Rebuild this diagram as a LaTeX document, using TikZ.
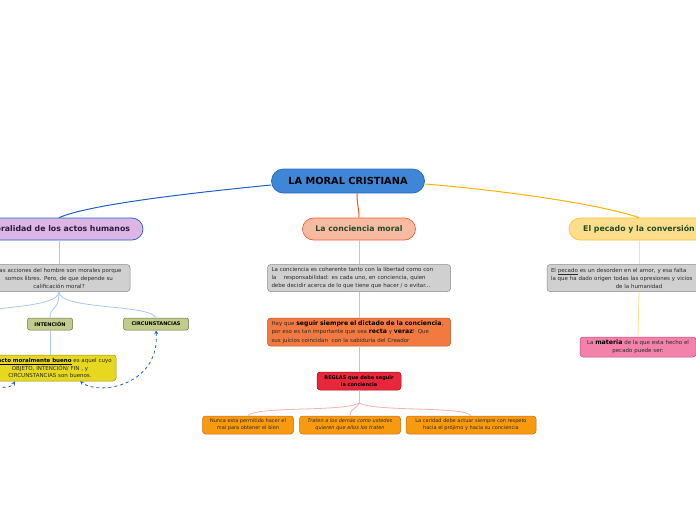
\documentclass[tikz,border=0pt]{standalone}
\usepackage{fontspec}
\setmainfont{DejaVu Sans}
\usepackage{xcolor}
\usepackage{tikz}

\definecolor{rootfill}{HTML}{3F86D6}
\definecolor{rootdraw}{HTML}{2A6CC0}
\definecolor{blueline}{HTML}{1F5FCC}
\definecolor{bluesoft}{HTML}{A8C8F0}
\definecolor{actosfill}{HTML}{DCB6E4}
\definecolor{actosink}{HTML}{2B1A3F}
\definecolor{redline}{HTML}{EE5522}
\definecolor{salmonsoft}{HTML}{F7B4A4}
\definecolor{concfill}{HTML}{F9BAA2}
\definecolor{concdraw}{HTML}{F06030}
\definecolor{greenink}{HTML}{1D4D2A}
\definecolor{goldline}{HTML}{F8B400}
\definecolor{goldsoft}{HTML}{FDE08A}
\definecolor{pecfill}{HTML}{FEDE8A}
\definecolor{pecdraw}{HTML}{F8C040}
\definecolor{notegray}{HTML}{D0D0D0}
\definecolor{notedraw}{HTML}{8A8A8A}
\definecolor{tagolive}{HTML}{C2CC8A}
\definecolor{tagdraw}{HTML}{6E704E}
\definecolor{buenofill}{HTML}{E6D81E}
\definecolor{buenodraw}{HTML}{A09010}
\definecolor{dictfill}{HTML}{F27A40}
\definecolor{dictdraw}{HTML}{C05020}
\definecolor{reglasfill}{HTML}{E8283A}
\definecolor{reglasdraw}{HTML}{A01020}
\definecolor{orangefill}{HTML}{F89A10}
\definecolor{orangedraw}{HTML}{C07010}
\definecolor{pinkfill}{HTML}{F282AA}
\definecolor{pinkdraw}{HTML}{C04A7A}
\definecolor{inkgray}{HTML}{2A2A2A}

\newcommand{\destacar}[1]{{\fontsize{6.2}{8}\selectfont\bfseries\color{black}#1}}
\newcommand{\lineaizq}[1]{\makebox[\linewidth][l]{#1}}

\tikzset{
  rootbox/.style={draw=rootdraw, fill=rootfill, line width=0.8pt, rounded corners=12pt,
    minimum width=153pt, minimum height=24pt, inner sep=0pt,
    font=\fontsize{9.8}{11}\selectfont\bfseries},
  topicbox/.style={line width=0.7pt, rounded corners=11pt, minimum height=22pt, inner sep=0pt,
    font=\fontsize{7.8}{9}\selectfont\bfseries},
  notebox/.style={draw=notedraw, line width=0.5pt, rounded corners=3pt, inner xsep=4pt, inner ysep=0pt,
    align=center, text=inkgray, font=\fontsize{5.5}{8}\selectfont},
  tagbox/.style={draw=tagdraw, fill=tagolive, line width=0.5pt, rounded corners=2pt, minimum height=12pt,
    inner sep=0pt, font=\fontsize{5}{6}\selectfont\bfseries},
  smallbox/.style={notebox, fill=orangefill, draw=orangedraw, minimum height=18pt,
    font=\fontsize{5}{7}\selectfont},
  rootline/.style={line width=1pt},
  subline/.style={line width=0.8pt},
  linkline/.style={draw=blueline, line width=0.8pt, dashed, <->, >=stealth}
}

\begin{document}
\begin{tikzpicture}[x=1pt,y=-1pt]
    \useasboundingbox (0,0) rectangle (696,520);
    \clip (0,0) rectangle (696,520);

    % Centre
    \node[rootbox] (root) at (348,181) {LA MORAL CRISTIANA};

    % Main topics
    \node[topicbox, draw=blueline, fill=actosfill, text=actosink, minimum width=168pt] (actos) at (59,229) {Moralidad de los actos humanos};
    \node[topicbox, draw=concdraw, fill=concfill, text=greenink, minimum width=113pt] (conciencia) at (359,229) {La conciencia moral};
    \node[topicbox, draw=pecdraw, fill=pecfill, text=greenink, minimum width=140pt] (pecado) at (639,229) {El pecado y la conversión};

    \draw[rootline, blueline] ([yshift=-4pt]root.west) .. controls (200,192) and (90,204) .. (actos.north);
    \draw[rootline, redline] ([xshift=9pt]root.south) .. controls (357,205) and (359,208) .. (conciencia.north);
    \draw[rootline, goldline] ([yshift=-3pt]root.east) .. controls (500,190) and (600,204) .. (pecado.north);

    % Moralidad de los actos humanos
    \node[notebox, fill=notegray, text width=134pt, minimum height=27pt] (calif) at (59,278)
        {Las acciones del hombre son morales porque\\somos libres. Pero, de que depende su\\calificación moral?};
    \node[tagbox, minimum width=45pt] (intencion) at (50,324) {INTENCIÓN};
    \node[tagbox, minimum width=65pt] (circ) at (156,324) {CIRCUNSTANCIAS};
    \coordinate (objeto) at (-45,318);
    \coordinate (objetobajo) at (-45,331);
    \node[notebox, fill=buenofill, draw=buenodraw, text width=124pt, minimum height=26pt,
          font=\fontsize{5.5}{7.5}\selectfont] (bueno) at (50,368)
        {Un \textbf{\color{black}\underline{acto moralmente bueno}} es aquel cuyo\\OBJETO, INTENCIÓN/ FIN , y\\CIRCUNSTANCIAS son buenos.};

    \draw[subline, bluesoft] (actos.south) -- (calif.north);
    \draw[subline, bluesoft] (calif.south) .. controls (59,312) and (50,306) .. (intencion.north);
    \draw[subline, bluesoft] (calif.south) .. controls (59,310) and (150,304) .. (circ.north);
    \draw[subline, bluesoft] (calif.south) .. controls (59,310) and (-30,306) .. (objeto);
    \draw[subline, bluesoft] (intencion.south) -- (bueno.north);
    \draw[linkline] (circ.south) .. controls (160,385) and (100,396) .. ([xshift=30pt]bueno.south);
    \draw[linkline] (objetobajo) .. controls (-40,385) and (8,394) .. ([xshift=-35pt]bueno.south);

    % La conciencia moral
    \node[notebox, fill=notegray, text width=175pt, align=left, minimum height=27pt] (coherente) at (359,278)
        {La conciencia es coherente tanto con la libertad como con\\la \quad responsabilidad: es cada uno, en conciencia, quien\\debe decidir acerca de lo que tiene que hacer / o evitar...};
    \node[notebox, fill=dictfill, draw=dictdraw, text width=175pt, align=left, minimum height=28pt,
          font=\fontsize{5.5}{8.5}\selectfont] (dictado) at (359,332)
        {Hay que \destacar{seguir siempre el dictado de la conciencia},\\por eso es tan importante que sea \destacar{recta} y \destacar{veraz}! Que\\sus juicios coincidan \ con la sabiduría del Creador};
    \node[notebox, fill=reglasfill, draw=reglasdraw, text=black, text width=76pt, minimum height=18pt,
          font=\fontsize{5}{7}\selectfont\bfseries] (reglas) at (359,381) {REGLAS que debe seguir\\la conciencia};
    \coordinate (reglasfork) at (359,403);
    \node[smallbox, text width=83pt] (nunca) at (248,425) {Nunca esta permitido hacer el\\mal para obtener el bien};
    \node[smallbox, text width=93pt, font=\fontsize{5}{7}\selectfont\itshape] (traten) at (350,425) {Traten a los demás como ustedes\\quieren que ellos los traten};
    \node[smallbox, text width=122pt] (caridad) at (471,425) {La caridad debe actuar siempre con respeto\\hacia el prójimo y hacia su conciencia};

    \draw[subline, salmonsoft] (conciencia.south) -- (coherente.north);
    \draw[subline, salmonsoft] (coherente.south) -- (dictado.north);
    \draw[subline, salmonsoft] (dictado.south) -- (reglas.north);
    \draw[subline, salmonsoft] (reglas.south) -- (reglasfork);
    \draw[subline, salmonsoft] (reglasfork) .. controls (345,412) and (255,406) .. (nunca.north);
    \draw[subline, salmonsoft] (reglasfork) .. controls (356,410) and (350,408) .. (traten.north);
    \draw[subline, salmonsoft] (reglasfork) .. controls (375,412) and (465,406) .. (caridad.north);

    % El pecado y la conversion
    \node[notebox, fill=notegray, text width=176pt, minimum height=27pt] (desorden) at (639,278)
        {\lineaizq{El \underline{pecado} es un desorden en el amor, y esa falta}\\\lineaizq{la que ha dado origen todas las opresiones y vicios}\\de la humanidad};
    \node[notebox, fill=pinkfill, draw=pinkdraw, text width=108pt, minimum height=20pt] (materia) at (638,347)
        {La \destacar{materia} de la que esta hecho el\\pecado puede ser:};

    \draw[subline, goldsoft] (pecado.south) -- (desorden.north);
    \draw[subline, goldsoft] (desorden.south) -- (materia.north);
\end{tikzpicture}
\end{document}
